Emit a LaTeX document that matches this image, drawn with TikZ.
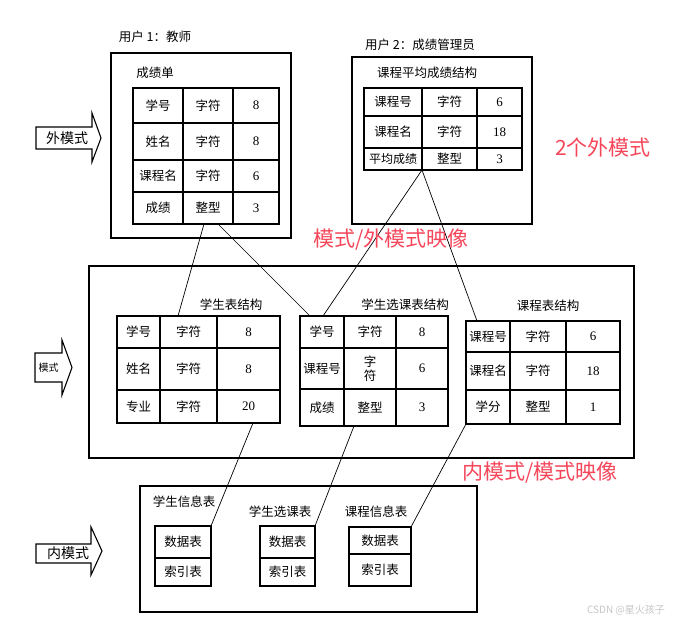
\documentclass[tikz,border=0pt]{standalone}
\usepackage{fontspec}
\setmainfont{Liberation Serif}
\newfontfamily\cjk{Noto Sans CJK SC}
\definecolor{redlab}{RGB}{245,70,90}
\begin{document}
\begin{tikzpicture}[x=1pt,y=-1pt,
  box/.style={draw, line width=1.1pt},
  grid/.style={draw, line width=1.1pt},
  link/.style={draw, line width=0.7pt},
  txt/.style={font=\cjk\fontsize{12.5}{13.5}\selectfont, inner sep=0pt, align=center},
  num/.style={font=\fontsize{13}{14}\selectfont, inner sep=0pt},
  ttl/.style={font=\cjk\fontsize{12.5}{14}\selectfont, inner sep=0pt},
  redlbl/.style={text=redlab, font=\cjk\fontsize{21}{24}\selectfont, inner sep=0pt},
  arrowtxt/.style={font=\cjk\fontsize{14}{16}\selectfont, inner sep=0pt}]
\useasboundingbox (0,0) rectangle (678,624);
\fill[white] (0,0) rectangle (678,624);

% ---------- outer boxes ----------
\draw[box] (111,53) rectangle (291,238);
\draw[box] (352,57) rectangle (532,224);
\draw[box] (89,266) rectangle (634,458);
\draw[box] (140,486) rectangle (477,612);

% ---------- titles ----------
\node[ttl] (u1) at (155,37) {用户 1：教师};
\node[ttl] (u2) at (420,45) {用户 2：成绩管理员};
\node[ttl] (cjd) at (155,73) {成绩单};
\node[ttl] (kcpj) at (427,73) {课程平均成绩结构};
\node[ttl] (xsb) at (231,305) {学生表结构};
\node[ttl] (xsxk) at (405,305) {学生选课表结构};
\node[ttl] (kcb) at (548,306) {课程表结构};
\node[ttl] (xsxx) at (184,502) {学生信息表};
\node[ttl] (xsxkb) at (280,512) {学生选课表};
\node[ttl] (kcxx) at (376,512) {课程信息表};

% ---------- table 1: 成绩单 ----------
\draw[grid] (133,88) rectangle (279,224);
\foreach \x in {183,233} \draw[grid] (\x,88) -- (\x,224);
\foreach \y in {123,160,192} \draw[grid] (133,\y) -- (279,\y);
\node[txt] (a11) at (158,105.5) {学号};
\node[txt] (a12) at (208,105.5) {字符};
\node[num] (a13) at (256,105.5) {8};
\node[txt] (a21) at (158,141.5) {姓名};
\node[txt] (a22) at (208,141.5) {字符};
\node[num] (a23) at (256,141.5) {8};
\node[txt] (a31) at (158,176) {课程名};
\node[txt] (a32) at (208,176) {字符};
\node[num] (a33) at (256,176) {6};
\node[txt] (a41) at (158,208) {成绩};
\node[txt] (a42) at (208,208) {整型};
\node[num] (a43) at (256,208) {3};

% ---------- table 2: 课程平均成绩结构 ----------
\draw[grid] (364,88) rectangle (522,170);
\foreach \x in {422,477} \draw[grid] (\x,88) -- (\x,170);
\foreach \y in {116,148} \draw[grid] (364,\y) -- (522,\y);
\node[txt] (b11) at (393,102) {课程号};
\node[txt] (b12) at (449.5,102) {字符};
\node[num] (b13) at (499.5,102) {6};
\node[txt] (b21) at (393,132) {课程名};
\node[txt] (b22) at (449.5,132) {字符};
\node[num] (b23) at (499.5,132) {18};
\node[txt, font=\cjk\fontsize{12}{13}\selectfont] (b31) at (393,159) {平均成绩};
\node[txt] (b32) at (449.5,159) {整型};
\node[num] (b33) at (499.5,159) {3};

% ---------- table 3: 学生表结构 ----------
\draw[grid] (117,316) rectangle (280,423);
\foreach \x in {160,217} \draw[grid] (\x,316) -- (\x,423);
\foreach \y in {348,390} \draw[grid] (117,\y) -- (280,\y);
\node[txt] (c11) at (138.5,332) {学号};
\node[txt] (c12) at (188.5,332) {字符};
\node[num] (c13) at (248.5,332) {8};
\node[txt] (c21) at (138.5,369) {姓名};
\node[txt] (c22) at (188.5,369) {字符};
\node[num] (c23) at (248.5,369) {8};
\node[txt] (c31) at (138.5,406.5) {专业};
\node[txt] (c32) at (188.5,406.5) {字符};
\node[num] (c33) at (248.5,406.5) {20};

% ---------- table 4: 学生选课表结构 ----------
\draw[grid] (300,316) rectangle (448,426);
\foreach \x in {344,396} \draw[grid] (\x,316) -- (\x,426);
\foreach \y in {348,389} \draw[grid] (300,\y) -- (448,\y);
\node[txt] (d11) at (322,332) {学号};
\node[txt] (d12) at (370,332) {字符};
\node[num] (d13) at (422,332) {8};
\node[txt] (d21) at (322,368.5) {课程号};
\node[txt] (d22) at (370,368.5) {字\\符};
\node[num] (d23) at (422,368.5) {6};
\node[txt] (d31) at (322,407.5) {成绩};
\node[txt] (d32) at (370,407.5) {整型};
\node[num] (d33) at (422,407.5) {3};

% ---------- table 5: 课程表结构 ----------
\draw[grid] (466,321) rectangle (620,424);
\foreach \x in {510,566} \draw[grid] (\x,321) -- (\x,424);
\foreach \y in {352,390} \draw[grid] (466,\y) -- (620,\y);
\node[txt] (e11) at (488,336.5) {课程号};
\node[txt] (e12) at (538,336.5) {字符};
\node[num] (e13) at (593,336.5) {6};
\node[txt] (e21) at (488,371) {课程名};
\node[txt] (e22) at (538,371) {字符};
\node[num] (e23) at (593,371) {18};
\node[txt] (e31) at (488,407) {学分};
\node[txt] (e32) at (538,407) {整型};
\node[num] (e33) at (593,407) {1};

% ---------- internal storage boxes ----------
\draw[grid] (155,526) rectangle (211,586); \draw[grid] (155,558) -- (211,558);
\node[txt] (f1) at (183,542) {数据表};
\node[txt] (f2) at (183,572) {索引表};
\draw[grid] (260,526) rectangle (315,586); \draw[grid] (260,558) -- (315,558);
\node[txt] (g1) at (287.5,542) {数据表};
\node[txt] (g2) at (287.5,572) {索引表};
\draw[grid] (349,527) rectangle (411,586); \draw[grid] (349,554) -- (411,554);
\node[txt] (h1) at (380,540.5) {数据表};
\node[txt] (h2) at (380,570) {索引表};

% ---------- left block arrows ----------
\draw[line width=1.1pt] (36,127) -- (92,127) -- (92,113) -- (101,138) -- (92,162) -- (92,149) -- (36,149) -- cycle;
\node[arrowtxt] (ext) at (67,138) {外模式};
\draw[line width=1.1pt] (35,353) -- (62,353) -- (62,340) -- (72,367.5) -- (62,395) -- (62,382) -- (35,382) -- cycle;
\node[arrowtxt, font=\cjk\fontsize{10}{12}\selectfont] (mid) at (48.5,368) {模式};
\draw[line width=1.1pt] (36,544) -- (91,544) -- (91,527) -- (102,551) -- (91,575) -- (91,563) -- (36,563) -- cycle;
\node[arrowtxt] (int) at (68,553) {内模式};

% ---------- connection points ----------
\coordinate (p1) at (204,224);
\coordinate (p2) at (218,224);
\coordinate (p3) at (422,170);
\coordinate (q1) at (178,316);
\coordinate (q2) at (310,316);
\coordinate (q3) at (323,316);
\coordinate (q4) at (477,321);
\coordinate (r1) at (253,423);
\coordinate (r2) at (354,426);
\coordinate (r3) at (466,424);
\coordinate (s1) at (211,526);
\coordinate (s2) at (315,526);
\coordinate (s3) at (411,527);

\draw[link] (p1) -- (q1);
\draw[link] (p2) -- (q2);
\draw[link] (p3) -- (q3);
\draw[link] (p3) -- (q4);
\draw[link] (r1) -- (s1);
\draw[link] (r2) -- (s2);
\draw[link] (r3) -- (s3);

% ---------- red annotations ----------
\node[redlbl] (lab1) at (603,148) {2个外模式};
\node[redlbl] (lab2) at (391,240) {模式/外模式映像};
\node[redlbl] (lab3) at (540,473) {内模式/模式映像};

% ---------- watermark ----------
\node[text=gray!45, font=\cjk\fontsize{10}{12}\selectfont, inner sep=0pt] (wm) at (626,610) {CSDN @星火孩子};
\end{tikzpicture}
\end{document}
